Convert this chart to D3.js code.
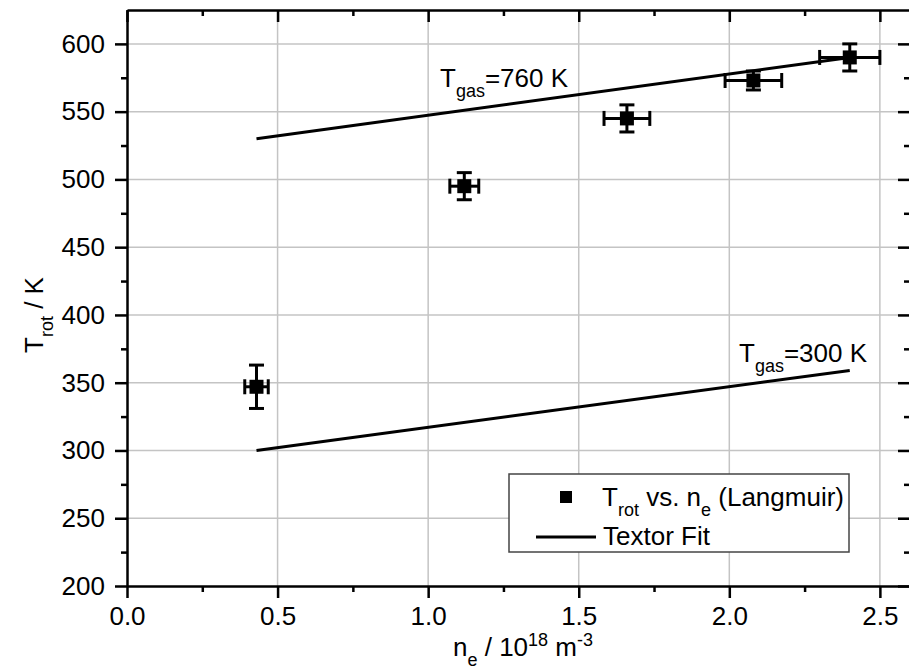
<!DOCTYPE html>
<html><head><meta charset="utf-8">
<script src="https://cdn.jsdelivr.net/npm/d3@7"></script>
<style>body{margin:0;background:#fff;} svg{display:block;} text{font-family:"Liberation Sans",Arial,sans-serif;fill:#000;}</style>
</head><body>
<svg id="c" width="909" height="671"></svg>
<script>
// Data
const neValues   = [0.43, 1.12, 1.66, 2.08, 2.40];
const trotValues = [347, 495, 545, 573, 590];
const neErr      = [0.039, 0.048, 0.076, 0.094, 0.10];
const trotErr    = [16, 10, 10, 7, 10];
const fit760 = [[0.43, 530], [2.40, 590]];
const fit300 = [[0.43, 300], [2.40, 359]];
const xTicks = [0.0, 0.5, 1.0, 1.5, 2.0, 2.5];
const yTicks = [200, 250, 300, 350, 400, 450, 500, 550, 600];

const FS = "26px", SFS = "18px";
const svg = d3.select("#c");
const L = 127, R = 910, T = 10, B = 586;
const x = d3.scaleLinear().domain([0, 2.6]).range([L, R]);
const y = d3.scaleLinear().domain([200, 625]).range([B, T]);

const grid = svg.append("g");
xTicks.filter(v => v > 0).forEach(v => grid.append("line")
  .attr("x1", x(v)).attr("x2", x(v)).attr("y1", T).attr("y2", B)
  .attr("stroke", "#c4c4c4").attr("stroke-width", 1.5));
yTicks.filter(v => v > 200).forEach(v => grid.append("line")
  .attr("x1", L).attr("x2", R).attr("y1", y(v)).attr("y2", y(v))
  .attr("stroke", "#c4c4c4").attr("stroke-width", 1.5));

const xMinor = d3.range(0.25, 2.6, 0.5);
const yMinor = d3.range(225, 625, 50);
const fmtX = d3.format(".1f");

function styleAxis(g) {
  g.selectAll("path").attr("stroke", "#000").attr("stroke-width", 2.5);
  g.selectAll("line").attr("stroke", "#000").attr("stroke-width", 2.5);
  g.selectAll("text").style("font-size", FS).style("font-family", '"Liberation Sans",Arial,sans-serif');
}
// bottom
const gb = svg.append("g").attr("transform", `translate(0,${B})`)
  .call(d3.axisBottom(x).tickValues(xTicks).tickFormat(fmtX).tickSize(12).tickPadding(9).tickSizeOuter(0));
styleAxis(gb);
svg.append("g").attr("transform", `translate(0,${B})`)
  .call(d3.axisBottom(x).tickValues(xMinor).tickFormat("").tickSize(6).tickSizeOuter(0))
  .call(g => { g.select("path").remove(); styleAxis(g); });
// top (inward ticks)
const gt = svg.append("g").attr("transform", `translate(0,${T})`)
  .call(d3.axisBottom(x).tickValues(xTicks).tickFormat("").tickSize(12).tickSizeOuter(0));
styleAxis(gt);
svg.append("g").attr("transform", `translate(0,${T})`)
  .call(d3.axisBottom(x).tickValues(xMinor).tickFormat("").tickSize(6).tickSizeOuter(0))
  .call(g => { g.select("path").remove(); styleAxis(g); });
// left
const gl = svg.append("g").attr("transform", `translate(${L},0)`)
  .call(d3.axisLeft(y).tickValues(yTicks).tickSize(12).tickPadding(10).tickSizeOuter(0));
styleAxis(gl);
svg.append("g").attr("transform", `translate(${L},0)`)
  .call(d3.axisLeft(y).tickValues(yMinor).tickFormat("").tickSize(6).tickSizeOuter(0))
  .call(g => { g.select("path").remove(); styleAxis(g); });
// right (inward)
const gr = svg.append("g").attr("transform", `translate(${R},0)`)
  .call(d3.axisLeft(y).tickValues(yTicks).tickFormat("").tickSize(12).tickSizeOuter(0));
styleAxis(gr);
svg.append("g").attr("transform", `translate(${R},0)`)
  .call(d3.axisLeft(y).tickValues(yMinor).tickFormat("").tickSize(6).tickSizeOuter(0))
  .call(g => { g.select("path").remove(); styleAxis(g); });

// fit lines
const line = d3.line().x(d => x(d[0])).y(d => y(d[1]));
[fit760, fit300].forEach(f => svg.append("path").attr("d", line(f))
  .attr("fill", "none").attr("stroke", "#000").attr("stroke-width", 3));

// error bars + markers
const pts = neValues.map((v, i) => ({x: v, y: trotValues[i], ex: neErr[i], ey: trotErr[i]}));
const eb = svg.append("g").attr("stroke", "#000").attr("stroke-width", 3);
const cap = 7.5;
pts.forEach(p => {
  const cx = x(p.x), cy = y(p.y);
  eb.append("line").attr("x1", cx).attr("x2", cx).attr("y1", y(p.y + p.ey)).attr("y2", y(p.y - p.ey));
  eb.append("line").attr("x1", cx - cap).attr("x2", cx + cap).attr("y1", y(p.y + p.ey)).attr("y2", y(p.y + p.ey));
  eb.append("line").attr("x1", cx - cap).attr("x2", cx + cap).attr("y1", y(p.y - p.ey)).attr("y2", y(p.y - p.ey));
  eb.append("line").attr("x1", x(p.x - p.ex)).attr("x2", x(p.x + p.ex)).attr("y1", cy).attr("y2", cy);
  eb.append("line").attr("x1", x(p.x - p.ex)).attr("x2", x(p.x - p.ex)).attr("y1", cy - cap).attr("y2", cy + cap);
  eb.append("line").attr("x1", x(p.x + p.ex)).attr("x2", x(p.x + p.ex)).attr("y1", cy - cap).attr("y2", cy + cap);
});
svg.append("g").selectAll("rect").data(pts).join("rect")
  .attr("x", d => x(d.x) - 7).attr("y", d => y(d.y) - 7).attr("width", 14).attr("height", 14).attr("fill", "#000");

// labels with subscripts
function subText(g, px, py, parts, anchor) {
  const t = g.append("text").attr("x", px).attr("y", py).style("font-size", FS).attr("text-anchor", anchor || "start");
  parts.forEach(p => {
    const s = t.append("tspan").text(p.t);
    if (p.sub) s.attr("dy", 10).style("font-size", SFS);
    else if (p.sup) s.attr("dy", -10).style("font-size", SFS);
    else if (p.back) s.attr("dy", p.back);
  });
  return t;
}
subText(svg, 440, 87, [{t:"T"},{t:"gas",sub:true},{t:"=760 K",back:-10}]);
subText(svg, 739, 362, [{t:"T"},{t:"gas",sub:true},{t:"=300 K",back:-10}]);

// axis titles
subText(svg, 453, 656, [{t:"n"},{t:"e",sub:true},{t:" / 10",back:-10},{t:"18",sup:true},{t:" m",back:10},{t:"-3",sup:true}]);
const yt = svg.append("g").attr("transform", "translate(43,353) rotate(-90)");
subText(yt, 0, 0, [{t:"T"},{t:"rot",sub:true},{t:" / K",back:-10}]);

// legend
const lg = svg.append("g");
lg.append("rect").attr("x", 509).attr("y", 474).attr("width", 340).attr("height", 78)
  .attr("fill", "#fff").attr("stroke", "#444").attr("stroke-width", 1.5);
lg.append("rect").attr("x", 560).attr("y", 491).attr("width", 12).attr("height", 12).attr("fill", "#000");
subText(lg, 602, 506, [{t:"T"},{t:"rot",sub:true},{t:" vs. n",back:-10},{t:"e",sub:true},{t:" (Langmuir)",back:-10}]);
lg.append("line").attr("x1", 536).attr("x2", 596).attr("y1", 537).attr("y2", 537).attr("stroke", "#000").attr("stroke-width", 3);
subText(lg, 603, 545, [{t:"Textor Fit"}]);
</script>
</body></html>
